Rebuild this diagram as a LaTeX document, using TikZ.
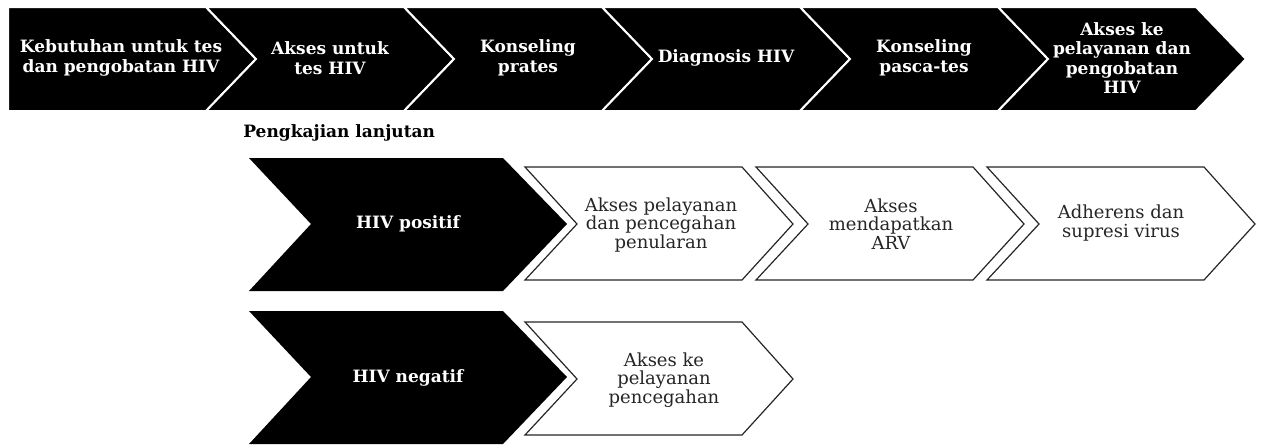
\documentclass[tikz,border=0pt]{standalone}
\usepackage{fontspec}
\setmainfont{DejaVu Serif}

\begin{document}
\begin{tikzpicture}[x=0.5pt, y=-0.5pt,
    B/.style = {fill=black, draw=white, line width=1pt},% top row chevrons
    K/.style = {fill=black},% big black chevrons
    W/.style = {fill=white, draw=black!85, line width=0.6pt},% outlined chevrons
    T/.style = {align=center, text=white, inner sep=0pt,
                font=\bfseries\fontsize{8.5}{9.8}\selectfont},
    U/.style = {align=center, text=black!85, inner sep=0pt,
                font=\fontsize{9}{9.3}\selectfont},
                        ]
\useasboundingbox (0,0) rectangle (1262,445);
% top row
\path[B] (8,7) -- (206,7) -- (256,59) -- (206,111) -- (8,111) -- cycle;
\foreach \i [evaluate=\i as \p using 58+198*\i] in {1,...,5}
    \path[B] (\p-50,7) -- (\p+148,7) -- (\p+198,59) -- (\p+148,111)
             -- (\p-50,111) -- (\p,59) -- cycle;
\foreach \x/\n/\t in {121/t1/{Kebutuhan untuk tes\\dan pengobatan HIV},
                      330/t2/{Akses untuk\\tes HIV},
                      528/t3/{Konseling\\prates},
                      726/t4/{Diagnosis HIV},
                      924/t5/{Konseling\\pasca-tes},
                      1122/t6/{Akses ke\\pelayanan dan\\pengobatan\\HIV}}% <-- content of nodes
    \node[T] (\n) at (\x,58) {\t};
\node[anchor=west, inner sep=0pt, font=\bfseries\fontsize{8.5}{9.8}\selectfont]
    (pk) at (243,133) {Pengkajian lanjutan};
% HIV positif
\path[K] (249,158) -- (503,158) -- (567,224) -- (503,291) -- (249,291)
         -- (311,224) -- cycle;
\node[T] (pos) at (408,224) {HIV positif};
\foreach \j [evaluate=\j as \x using 525+231*\j] in {0,1,2}
    \path[W] (\x,167) -- (\x+217,167) -- (\x+268,224) -- (\x+217,280)
             -- (\x,280) -- (\x+52,224) -- cycle;
\node[U] (w1) at (661,225) {Akses pelayanan\\dan pencegahan\\penularan};
\node[U] (w2) at (891,224) {Akses\\mendapatkan\\ARV};
\node[U] (w3) at (1121,223) {Adherens dan\\supresi virus};
% HIV negatif
\path[K] (249,311) -- (503,311) -- (567,377) -- (503,444) -- (249,444)
         -- (311,377) -- cycle;
\node[T] (neg) at (408,378) {HIV negatif};
\path[W] (525,322) -- (742,322) -- (793,379) -- (742,435) -- (525,435)
         -- (577,379) -- cycle;
\node[U] (w4) at (664,380) {Akses ke\\pelayanan\\pencegahan};
\end{tikzpicture}
\end{document}
